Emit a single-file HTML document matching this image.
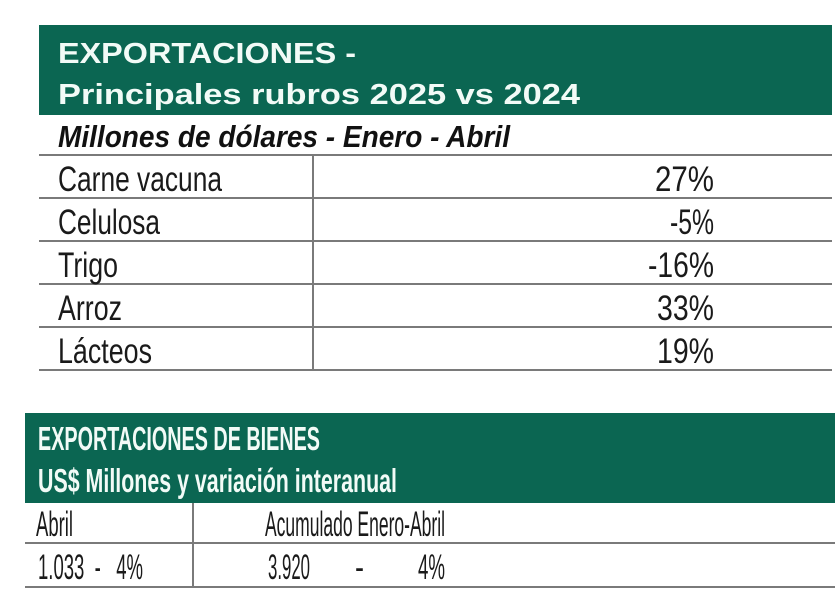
<!DOCTYPE html>
<html><head><meta charset="utf-8"><style>
html,body{margin:0;padding:0;background:#fff;width:840px;height:615px;overflow:hidden}
svg{display:block}
text{font-family:"Liberation Sans",sans-serif}
</style></head><body>
<svg width="840" height="615" viewBox="0 0 840 615" xmlns="http://www.w3.org/2000/svg">
<rect x="39" y="25" width="793" height="90" fill="#0b6652"/>
<g fill="#f2fbf7" font-weight="bold" font-size="29">
<text x="58" y="63" textLength="298" lengthAdjust="spacingAndGlyphs">EXPORTACIONES -</text>
<text x="58" y="104" textLength="522" lengthAdjust="spacingAndGlyphs">Principales rubros 2025 vs 2024</text>
</g>
<text x="58" y="147" font-size="31" font-weight="bold" font-style="italic" fill="#111" textLength="452" lengthAdjust="spacingAndGlyphs">Millones de dólares - Enero - Abril</text>
<g stroke="#7a7a7a" stroke-width="2">
<line x1="39" y1="155" x2="832" y2="155"/>
<line x1="39" y1="198" x2="832" y2="198"/>
<line x1="39" y1="241" x2="832" y2="241"/>
<line x1="39" y1="284" x2="832" y2="284"/>
<line x1="39" y1="327" x2="832" y2="327"/>
<line x1="39" y1="370" x2="832" y2="370"/>
<line x1="313" y1="155" x2="313" y2="370"/>
</g>
<g font-size="35" fill="#1a1a1a">
<text x="58" y="191" textLength="164" lengthAdjust="spacingAndGlyphs">Carne vacuna</text>
<text x="58" y="234" textLength="102" lengthAdjust="spacingAndGlyphs">Celulosa</text>
<text x="58" y="277" textLength="60" lengthAdjust="spacingAndGlyphs">Trigo</text>
<text x="58" y="320" textLength="64" lengthAdjust="spacingAndGlyphs">Arroz</text>
<text x="58" y="363" textLength="94" lengthAdjust="spacingAndGlyphs">Lácteos</text>
<text x="655" y="191" textLength="59" lengthAdjust="spacingAndGlyphs">27%</text>
<text x="670" y="234" textLength="44" lengthAdjust="spacingAndGlyphs">-5%</text>
<text x="648" y="277" textLength="66" lengthAdjust="spacingAndGlyphs">-16%</text>
<text x="657" y="320" textLength="57" lengthAdjust="spacingAndGlyphs">33%</text>
<text x="657" y="363" textLength="57" lengthAdjust="spacingAndGlyphs">19%</text>
</g>
<rect x="25" y="413" width="810" height="90" fill="#0b6652"/>
<g fill="#f2fbf7" font-weight="bold" font-size="33">
<text x="38" y="450" textLength="282" lengthAdjust="spacingAndGlyphs">EXPORTACIONES DE BIENES</text>
<text x="38" y="492" textLength="359" lengthAdjust="spacingAndGlyphs">US$ Millones y variación interanual</text>
</g>
<g stroke="#7a7a7a" stroke-width="2">
<line x1="25" y1="543" x2="835" y2="543"/>
<line x1="25" y1="587" x2="835" y2="587"/>
<line x1="193" y1="503" x2="193" y2="587"/>
</g>
<g font-size="35" fill="#1a1a1a">
<text x="36" y="536" textLength="37" lengthAdjust="spacingAndGlyphs">Abril</text>
<text x="265" y="536" textLength="180" lengthAdjust="spacingAndGlyphs">Acumulado Enero-Abril</text>
<text x="38" y="579" textLength="105" lengthAdjust="spacingAndGlyphs" xml:space="preserve">1.033  -   4%</text>
<text x="268" y="579" textLength="42" lengthAdjust="spacingAndGlyphs">3.920</text>
<text x="355" y="579" textLength="9" lengthAdjust="spacingAndGlyphs">-</text>
<text x="418" y="579" textLength="27" lengthAdjust="spacingAndGlyphs">4%</text>
</g>
</svg>
</body></html>
